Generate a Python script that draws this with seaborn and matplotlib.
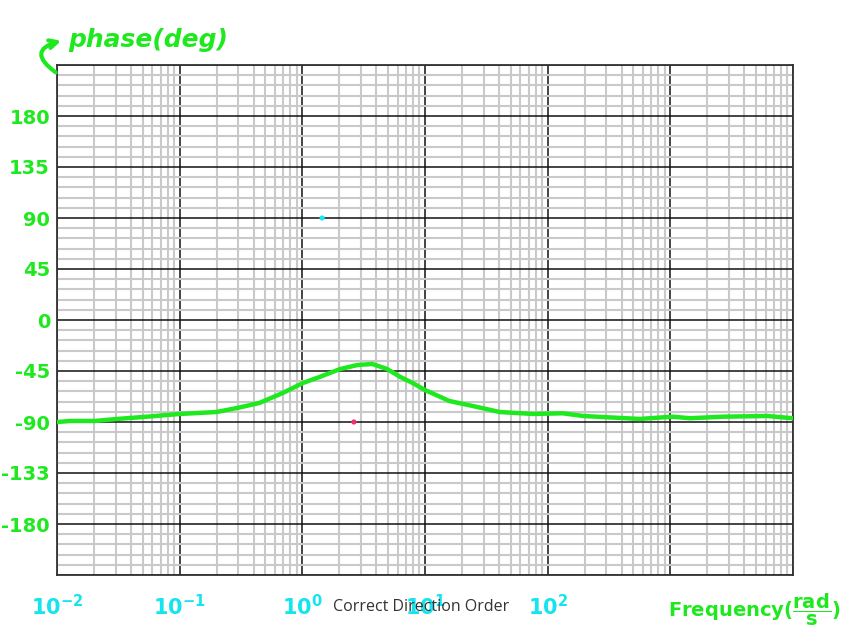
import numpy as np
import pandas as pd
import matplotlib
matplotlib.use("Agg")
import matplotlib.pyplot as plt
from matplotlib.ticker import LogLocator, MultipleLocator, FixedLocator, NullFormatter
import seaborn as sns

# ---- data ----
log_freq = [-2.0, -1.89, -1.69, -1.51, -1.30, -1.10, -1.0, -0.70, -0.53, -0.35,
            -0.16, 0.005, 0.14, 0.31, 0.45, 0.57, 0.69, 0.80, 0.90, 1.0,
            1.20, 1.39, 1.61, 1.88, 2.12, 2.29, 2.48, 2.75, 3.02, 3.16,
            3.43, 3.79, 4.0]
phase_deg = [-90.0, -89.1, -89.1, -87.3, -85.6, -83.8, -82.9, -81.2, -77.6, -73.2,
             -64.4, -55.6, -50.3, -43.2, -39.7, -38.8, -43.2, -50.3, -55.6, -61.8,
             -71.5, -75.9, -81.2, -82.9, -82.3, -84.7, -85.8, -87.3, -85.3, -86.7,
             -85.3, -84.7, -86.7]
dot_freq = [1.45, 2.63]
dot_phase = [90.0, -90.0]
dot_colors = ["#19e6f2", "#f0306e"]

y_tick_values = [-225, -180, -135, -90, -45, 0, 45, 90, 135, 180, 225]
y_tick_labels = ["", "-180", "-133", "-90", "-45", "0", "45", "90", "135", "180", ""]
x_tick_values = [1e-2, 1e-1, 1e0, 1e1, 1e2, 1e3, 1e4]
x_tick_labels = [r"$10^{-2}$", r"$10^{-1}$", r"$10^{0}$", r"$10^{1}$", r"$10^{2}$", "", ""]

df = pd.DataFrame({"freq": np.power(10.0, log_freq), "phase": phase_deg})
dots = pd.DataFrame({"freq": dot_freq, "phase": dot_phase, "c": dot_colors})

GREEN = "#1ee81e"
CYAN = "#14e4ee"

sns.set_style("white")
plt.rcParams["font.family"] = ["DejaVu Sans"]
plt.rcParams["mathtext.default"] = "regular"

fig = plt.figure(figsize=(8.58, 6.37), dpi=100)
ax = fig.add_axes([57 / 858, 1 - 575 / 637, (793 - 57) / 858, (575 - 65) / 637])

ax.set_xscale("log")
ax.set_xlim(1e-2, 1e4)
ax.set_ylim(-225, 225)

ax.xaxis.set_major_locator(FixedLocator(x_tick_values))
ax.xaxis.set_minor_locator(LogLocator(base=10, subs=np.arange(2, 10), numticks=20))
ax.xaxis.set_minor_formatter(NullFormatter())
ax.set_xticklabels(x_tick_labels)
ax.yaxis.set_major_locator(FixedLocator(y_tick_values))
ax.yaxis.set_minor_locator(MultipleLocator(9))
ax.set_yticklabels(y_tick_labels)

ax.grid(which="minor", color="#c9c9c9", linewidth=1.5, zorder=0)
ax.grid(which="major", color="#111111", linewidth=1.1, zorder=1)
ax.set_axisbelow(True)

ax.tick_params(axis="both", which="major", direction="out", length=5, width=1.2,
               color="#222222")
ax.tick_params(axis="both", which="minor", length=0)
ax.tick_params(axis="y", pad=0, labelsize=14, labelcolor=GREEN)
ax.tick_params(axis="x", pad=9, labelsize=15, labelcolor=CYAN)
for lab in ax.get_yticklabels():
    lab.set_fontweight("bold")
for lab in ax.get_xticklabels():
    lab.set_fontweight("bold")

for s in ax.spines.values():
    s.set_color("#333333")
    s.set_linewidth(1.3)

sns.lineplot(data=df, x="freq", y="phase", ax=ax, color=GREEN, linewidth=3.2,
             zorder=5, legend=False)
sns.scatterplot(data=dots, x="freq", y="phase", hue="c", palette=dot_colors,
                ax=ax, s=14, edgecolor="none", zorder=6, legend=False)
ax.set_xlabel("")
ax.set_ylabel("")

# annotations
fig.text(68 / 858, 1 - 40 / 637, "phase(deg)", color=GREEN, fontsize=18,
         fontweight="bold", fontstyle="italic", ha="left", va="center")
ax.annotate("", xy=(64 / 858, 1 - 40 / 637), xycoords="figure fraction",
            xytext=(58 / 858, 1 - 74 / 637), textcoords="figure fraction",
            arrowprops=dict(arrowstyle="->", color=GREEN, lw=3,
                            connectionstyle="arc3,rad=-1.1", mutation_scale=14))
fig.text(668 / 858, 1 - 610 / 637, r"Frequency($\dfrac{rad}{s}$)", color=GREEN,
         fontsize=14, fontweight="bold", ha="left", va="center")
fig.text(421 / 858, 1 - 607 / 637, "Correct Direction Order", color="#333333",
         fontsize=11.5, family="Open Sans", ha="center", va="center")

fig.savefig("out.png", dpi=100)
